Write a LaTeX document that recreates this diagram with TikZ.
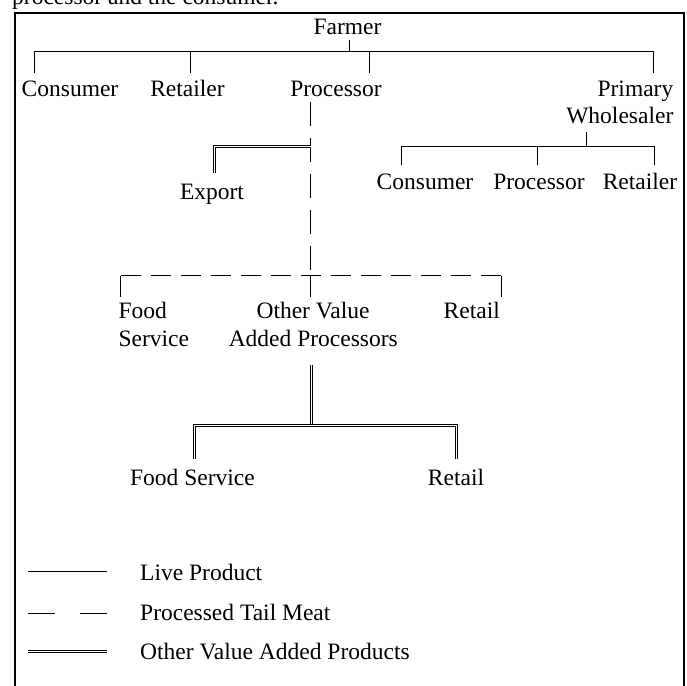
\documentclass[tikz,border=0pt]{standalone}
\usepackage{fontspec}
\setmainfont{Liberation Serif}
\begin{document}
\begin{tikzpicture}[x=1pt,y=-1pt,
  font=\fontsize{23.5}{28}\selectfont,
  lbl/.style={inner sep=0pt, anchor=base},
  lblw/.style={inner sep=0pt, anchor=base west},
  lble/.style={inner sep=0pt, anchor=base east},
  live/.style={line width=1.1pt},
  proc/.style={line width=1.1pt, dash pattern=on 24pt off 12pt},
  proch/.style={line width=1.1pt, dash pattern=on 20pt off 10pt},
  vap/.style={double, double distance=1.6pt, line width=0.8pt}]
\useasboundingbox (0,0) rectangle (687,685);

% frame
\draw[line width=2.2pt] (15,695) -- (15,13) -- (684,13) -- (684,695);

% intro text (cut off at top, as in the reference)
\node[lblw] (intro) at (12,5) {processor and the consumer.};

% labels
\node[lbl] (farmer) at (347.5,35) {Farmer};
\node[lbl] (consumerA) at (70,96) {Consumer};
\node[lbl] (retailerA) at (187.5,96) {Retailer};
\node[lbl] (processorA) at (336,96) {Processor};
\node[lble] (primary) at (673.5,96) {Primary};
\node[lble] (wholesaler) at (673.5,123.5) {Wholesaler};
\node[lbl] (consumerB) at (425,189.3) {Consumer};
\node[lbl] (processorB) at (539,189.3) {Processor};
\node[lbl] (retailerB) at (640,189.3) {Retailer};
\node[lbl] (export) at (212,199) {Export};
\node[lblw] (food) at (118.3,318.3) {Food};
\node[lblw] (service) at (118.3,346.7) {Service};
\node[lbl] (otherval) at (313,318.3) {Other Value};
\node[lbl] (addedproc) at (313.3,346.7) {Added Processors};
\node[lble] (retailC) at (500,318.3) {Retail};
\node[lbl] (foodserv) at (192.5,485) {Food Service};
\node[lbl] (retailD) at (456,485) {Retail};

% legend texts
\node[lblw] (legA) at (140,580) {Live Product};
\node[lblw] (legB) at (140,620.7) {Processed Tail Meat};
\node[lblw] (legC) at (140,659.3) {Other Value Added Products};

% farmer tree
\coordinate (fs) at (349.5,40);
\coordinate (fj) at (349.5,51.5);
\coordinate (c1) at (34.5,72.5);
\coordinate (r1) at (190.5,72.5);
\coordinate (p1) at (369.5,72.5);
\coordinate (w1) at (653.5,72.5);
\draw[live] (fs) -- (fj);
\draw[live] (c1) |- (fj) -| (w1);
\draw[live] (r1) -- (r1 |- fj);
\draw[live] (p1) -- (p1 |- fj);

% wholesaler tree
\coordinate (ws) at (586.5,131.5);
\coordinate (wj) at (586.5,146.5);
\coordinate (c2) at (401.5,164.5);
\coordinate (p2) at (537.5,164.5);
\coordinate (r2) at (654.5,164.5);
\draw[live] (ws) -- (wj);
\draw[live] (c2) |- (wj) -| (r2);
\draw[live] (p2) -- (p2 |- wj);

% processor dashed tree
\coordinate (ps) at (310.5,101.7);
\coordinate (pj) at (310.5,275.5);
\coordinate (hl) at (120.5,275.5);
\coordinate (hr) at (501.5,275.5);
\coordinate (fd) at (120.5,296.7);
\coordinate (od) at (310.5,296.7);
\coordinate (rd) at (501.5,296.7);
\draw[proc] (ps) -- (pj);
\draw[proch] (hl) -- (hr);
\draw[live] (hl) -- (fd);
\draw[live] (pj) -- (od);
\draw[live] (hr) -- (rd);

% export double
\coordinate (ej) at (310.5,146.5);
\coordinate (ex) at (214.5,173.3);
\draw[vap] (ej) -| (ex);

% lower double tree
\coordinate (vs) at (311.5,365);
\coordinate (vj) at (311.5,424);
\coordinate (vh) at (311.5,425.5);
\coordinate (fs2) at (194.5,459.3);
\coordinate (rt2) at (456.5,459.3);
\draw[vap] (vs) -- (vj);
\draw[vap] (fs2) |- (vh) -| (rt2);

% legend lines
\coordinate (la1) at (28,571.5);
\coordinate (la2) at (107,571.5);
\coordinate (lb1) at (28,613.5);
\coordinate (lb2) at (107,613.5);
\coordinate (lc1) at (28,651.5);
\coordinate (lc2) at (107,651.5);
\draw[live] (la1) -- (la2);
\draw[line width=1.1pt, dash pattern=on 27pt off 25pt] (lb1) -- (lb2);
\draw[vap] (lc1) -- (lc2);
\end{tikzpicture}
\end{document}
